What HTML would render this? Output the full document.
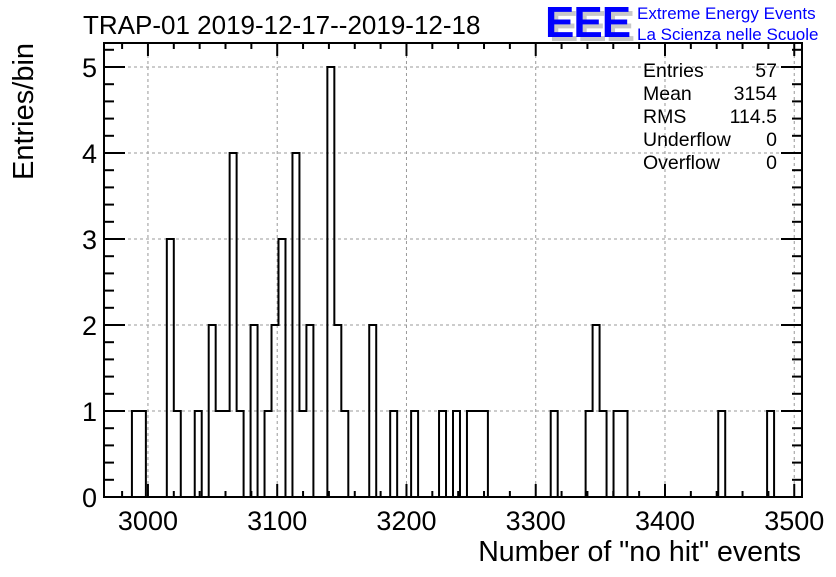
<!DOCTYPE html>
<html><head><meta charset="utf-8"><style>
body{margin:0;background:#fff;}
svg text{font-family:"Liberation Sans",sans-serif;}
</style></head><body>
<svg id="chart" width="836" height="572" xmlns="http://www.w3.org/2000/svg">
<rect width="836" height="572" fill="#fff"/>
<text x="83" y="34" font-size="26">TRAP-01 2019-12-17--2019-12-18</text>
<g>
<text x="549" y="41" font-size="44" font-weight="bold" fill="#c8c8c8" letter-spacing="-1">EEE</text>
<text x="545" y="37" font-size="44" font-weight="bold" fill="#0000ff" letter-spacing="-1">EEE</text>
<text x="637" y="19" font-size="17" fill="#0000ff">Extreme Energy Events</text>
<text x="637" y="40" font-size="17" fill="#0000ff">La Scienza nelle Scuole</text>
</g>
<g id="grid"></g>
<g id="ticks"></g>
<path id="hist" fill="none" stroke="#000" stroke-width="2"/>
<rect x="104" y="43" width="698" height="454" fill="none" stroke="#000" stroke-width="2"/>
<g font-size="19.5">
<text x="643" y="77">Entries</text><text x="777" y="77" text-anchor="end">57</text>
<text x="643" y="100">Mean</text><text x="777" y="100" text-anchor="end">3154</text>
<text x="643" y="123">RMS</text><text x="777" y="123" text-anchor="end">114.5</text>
<text x="643" y="146">Underflow</text><text x="777" y="146" text-anchor="end">0</text>
<text x="643" y="169">Overflow</text><text x="777" y="169" text-anchor="end">0</text>
</g>
<text x="801" y="561" font-size="28.5" text-anchor="end">Number of "no hit" events</text>
<text transform="translate(33,180) rotate(-90)" font-size="29">Entries/bin</text>
</svg>
<script>
const binLow = 2966;
const binWidth = 5.4;
const nBins = 100;
const binIndices = [4,5,9,10,13,15,16,17,18,19,21,23,24,25,27,28,29,32,33,34,38,41,44,48,50,52,53,54,64,69,70,71,73,74,88,95];
const binCounts  = [1,1,3,1,1,2,1,1,4,1,2,1,2,3,4,1,2,5,2,1,2,1,1,1,1,1,1,1,1,1,2,1,1,1,1,1];
const xTickLabels = [3000,3100,3200,3300,3400,3500];
const yTickLabels = [0,1,2,3,4,5];

const L=104,R=802,T=43,B=497;
const xMin=binLow, xMax=binLow+binWidth*nBins;
const X=v=>L+(v-xMin)/(xMax-xMin)*(R-L);
const Y=v=>B-v*86;
const NS="http://www.w3.org/2000/svg";
const svg=document.getElementById('chart');
function mk(tag,attrs,parent){const e=document.createElementNS(NS,tag);for(const k in attrs)e.setAttribute(k,attrs[k]);parent.appendChild(e);return e;}
const counts=new Array(nBins).fill(0);
binIndices.forEach((b,i)=>counts[b]=binCounts[i]);
let d=`M${X(xMin)},${Y(0)}`;
for(let i=0;i<nBins;i++){const x0=X(xMin+i*binWidth),x1=X(xMin+(i+1)*binWidth);d+=` L${x0},${Y(counts[i])} L${x1},${Y(counts[i])}`;}
d+=` L${X(xMax)},${Y(0)}`;
document.getElementById('hist').setAttribute('d',d);
const grid=document.getElementById('grid'),ticks=document.getElementById('ticks');
xTickLabels.forEach(v=>{
  const x=X(v);
  const g=mk('line',{x1:x,x2:x,y1:T,y2:B,stroke:'#999','stroke-dasharray':'3,3','stroke-width':1},grid);
  
  
  const t=mk('text',{x:x,y:530,'font-size':27,'text-anchor':'middle'},svg);
  t.textContent=v;
  
  
});
for(let v=2980;v<=xMax;v+=20){const x=X(v);if(x<L)continue;const len=(v%100===0)?13:6;
  mk('line',{x1:x,x2:x,y1:B,y2:B-len,stroke:'#000','stroke-width':2},ticks);
  mk('line',{x1:x,x2:x,y1:T,y2:T+len,stroke:'#000','stroke-width':2},ticks);}
yTickLabels.forEach(v=>{
  const y=Y(v);
  if(v>0){const g=mk('line',{x1:L,x2:R,y1:y,y2:y,stroke:'#999','stroke-dasharray':'3,3','stroke-width':1},grid);
  
  }
  const t=mk('text',{x:97,y:y+10,'font-size':27,'text-anchor':'end'},svg);
  t.textContent=v;
  
  
});
for(let k=0;k<=26;k++){const v=k*0.2;const y=Y(v);if(y<T)continue;const len=(k%5===0)?21:10;
  mk('line',{x1:L,x2:L+len,y1:y,y2:y,stroke:'#000','stroke-width':2},ticks);
  mk('line',{x1:R,x2:R-len,y1:y,y2:y,stroke:'#000','stroke-width':2},ticks);}
</script>
</body></html>
